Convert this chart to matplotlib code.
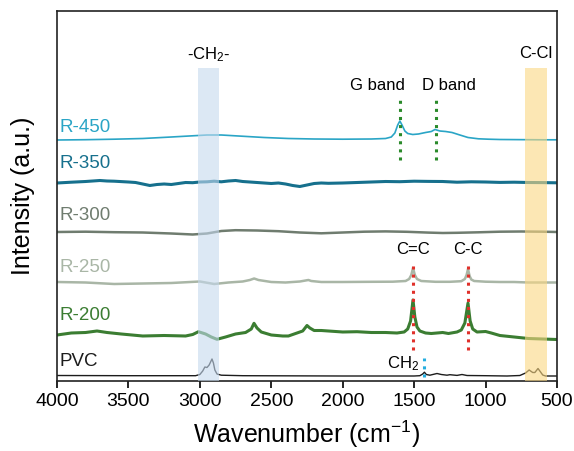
import matplotlib
matplotlib.use("Agg")
import matplotlib.pyplot as plt

plt.rcParams['font.family'] = ['Liberation Sans', 'DejaVu Sans']
plt.rcParams['mathtext.fontset'] = 'custom'
plt.rcParams['mathtext.rm'] = 'Liberation Sans'
plt.rcParams['mathtext.it'] = 'Liberation Sans:italic'

# ---------------- data ----------------
series_names = ["R-450", "R-350", "R-300", "R-250", "R-200", "PVC"]
series_offsets = [241, 198, 149, 99, 46, 5]

r450_wn = [4000, 3800, 3600, 3400, 3200, 3050, 2950, 2850, 2730, 2550, 2380, 2200, 2000, 1800, 1700,
           1660, 1635, 1615, 1600, 1585, 1565, 1545, 1510, 1470, 1420, 1380, 1354, 1320, 1280, 1235,
           1180, 1123, 1050, 980, 900, 800, 700, 600, 500]
r450_int = [0, 0.3, 0.8, 1.5, 3, 4.2, 5, 5, 4, 2.5, 1.5, 1, 0.8, 1, 1.5,
            3, 7, 15, 19, 15, 9, 6.5, 5.5, 6, 7.5, 8.5, 10.5, 9, 8.5, 7.5,
            5, 2.5, 1.2, 0.8, 0.5, 0.4, 0.3, 0.2, 0.2]

r350_wn = [4000, 3900, 3800, 3700, 3650, 3600, 3500, 3450, 3400, 3350, 3300, 3250, 3200, 3150, 3100,
           3050, 3000, 2950, 2900, 2850, 2800, 2750, 2700, 2650, 2600, 2550, 2500, 2450, 2400, 2350,
           2300, 2250, 2200, 2150, 2100, 2000, 1900, 1800, 1700, 1600, 1500, 1400, 1300, 1200, 1100,
           1000, 900, 800, 700, 600, 500]
r350_int = [0, 0.8, 1.5, 2.5, 2, 1.8, 1, 0.5, -1, -2.5, -1.5, -1, -1.5, -0.5, 0.5,
            0.3, 1, 1.2, 1.8, 1.2, 2, 2.5, 1.5, 1, 0.5, 0, -0.5, 0, -1, -2.5,
            -3.5, -2, -0.5, 0, -0.3, 0, 0.5, 1, 1.5, 1.3, 1.8, 1.6, 1.5, 0.8, 1.2,
            1.0, 0.6, 0.8, 0.5, 0.4, 0.2]

r300_wn = [4000, 3800, 3600, 3400, 3200, 3050, 2950, 2850, 2750, 2600, 2450, 2300, 2150, 2000, 1850,
           1700, 1550, 1400, 1300, 1200, 1050, 900, 750, 600, 500]
r300_int = [0, 0.3, -0.2, -0.5, -1.5, -2.5, -1.5, 1, 1.8, 1.5, 0.8, -0.5, -1.3, -0.5, 0.3,
            0.6, 0.2, -0.6, -1, -0.8, -0.3, 0.3, 0.5, 0.3, 0]

r250_wn = [4000, 3800, 3600, 3400, 3200, 3000, 2900, 2800, 2700, 2650, 2620, 2590, 2500, 2400, 2300,
           2260, 2240, 2220, 2150, 2000, 1800, 1650, 1560, 1535, 1520, 1508, 1495, 1480, 1450, 1350,
           1250, 1170, 1145, 1133, 1123, 1112, 1100, 1080, 1000, 900, 800, 700, 600, 500]
r250_int = [0, -0.5, -2, -1.5, -1, 0.5, -2, -0.5, 0.5, 2, 3.5, 2, 0, -0.5, 0.5,
            1.5, 2, 1, 0, 0, 0.2, 0.3, 1, 3, 7, 14, 7, 3, 1, 0.2,
            0.2, 0.8, 3, 7, 13, 6, 2.5, 1, 0.3, 0, 0, -0.5, -0.5, -0.5]

r200_wn = [4000, 3900, 3800, 3720, 3650, 3550, 3400, 3250, 3100, 3050, 3010, 2960, 2920, 2880, 2820,
           2750, 2680, 2640, 2621, 2600, 2570, 2500, 2420, 2380, 2320, 2280, 2250, 2230, 2200, 2150,
           2050, 2000, 1900, 1800, 1700, 1620, 1570, 1545, 1525, 1508, 1495, 1480, 1460, 1420, 1380,
           1300, 1260, 1200, 1170, 1145, 1123, 1108, 1090, 1060, 1000, 960, 900, 800, 700, 600, 500]
r200_int = [0, 2, 2.5, 4, 2.5, 1, -1, -0.5, -1, 0.5, 3.3, 1, -2, -4.3, -2,
            1, 2.5, 6, 11.7, 7, 3, 0, -1, -1, 2, 4, 9.5, 7, 4.5, 4.5,
            3.5, 3, 3.3, 2.5, 2.5, 2, 3, 6, 14, 35, 18, 8, 4, 2, 1.5,
            2.5, 1.5, 3, 5, 12, 32, 14, 6, 3, 3.5, 2, -0.5, -2, -3.5, -4, -4.5]

pvc_wn = [4000, 3500, 3100, 3030, 3000, 2980, 2965, 2950, 2935, 2915, 2905, 2895, 2880, 2850, 2700,
          2000, 1500, 1460, 1440, 1428, 1415, 1390, 1340, 1310, 1270, 1250, 1200, 1165, 1130, 1000,
          850, 760, 720, 695, 670, 655, 633, 615, 600, 580, 500]
pvc_int = [0.5, 0.3, 0.3, 0.3, 1.5, 5, 9, 8.5, 11, 17, 13, 6, 2, 0.8, 0.3,
           0, 0, 0.3, 2, 3.8, 1.5, 0.8, 2.5, 1.5, 0.8, 1.3, 0.6, 1.5, 0.5, 0.3,
           0, 0.5, 3, 6, 3.5, 3.5, 7.5, 4, 1, 0, 0]

series_wn = [r450_wn, r350_wn, r300_wn, r250_wn, r200_wn, pvc_wn]
series_int = [r450_int, r350_int, r300_int, r250_int, r200_int, pvc_int]

band_ranges = [(3010, 2865), (725, 570)]
band_labels = ["-CH$_2$-", "C-Cl"]

peak_labels = ["G band", "D band", "C=C", "C-C", "CH$_2$"]
peak_positions = [1600, 1350, 1508, 1123, 1428]

xticks = [4000, 3500, 3000, 2500, 2000, 1500, 1000, 500]

# ---------------- styles ----------------
colors = ['#2aa5c6', '#16708d', '#6f7c6f', '#a9b6a6', '#3b7d32', '#1c1c1c']
widths = [1.2, 2.2, 1.8, 1.8, 2.2, 1.0]
label_y = [254, 218, 166, 113, 66, 19]

fig = plt.figure(figsize=(5.74, 4.51), dpi=100)
ax = fig.add_axes([57/574, 70/451, 500/574, 370/451])

for wn, inten, off, c, lw in zip(series_wn, series_int, series_offsets, colors, widths):
    ax.plot(wn, [v + off for v in inten], color=c, lw=lw, solid_joinstyle='round', zorder=2)

for name, c, ly in zip(series_names, colors, label_y):
    ax.text(3982, ly, name, color=c, fontsize=13.5, ha='left', va='center')

# shaded bands (drawn over lines)
band_colors = ['#c5d9ee', '#fbd883']
for (a, b), bc in zip(band_ranges, band_colors):
    ax.fill_between([a, b], [0, 0], [313, 313], color=bc, alpha=0.6, lw=0, zorder=3)

ax.text(2940, 326, band_labels[0], fontsize=12, ha='center', va='center')
ax.text(650, 327, band_labels[1], fontsize=12, ha='center', va='center')

# dotted peak markers
ax.plot([peak_positions[0]] * 2, [221, 285], ls=':', color='#2a8a2a', lw=2.2, zorder=4)
ax.plot([peak_positions[1]] * 2, [221, 285], ls=':', color='#2a8a2a', lw=2.2, zorder=4)
ax.plot([peak_positions[2]] * 2, [31, 119], ls=':', color='#e0302a', lw=2.2, zorder=4)
ax.plot([peak_positions[3]] * 2, [31, 119], ls=':', color='#e0302a', lw=2.2, zorder=4)
ax.plot([peak_positions[4]] * 2, [4, 23], ls=':', color='#25aee0', lw=2.2, zorder=4)

ax.text(1755, 296, peak_labels[0], fontsize=12, ha='center', va='center')
ax.text(1255, 296, peak_labels[1], fontsize=12, ha='center', va='center')
ax.text(1508, 132, peak_labels[2], fontsize=12, ha='center', va='center')
ax.text(1123, 132, peak_labels[3], fontsize=12, ha='center', va='center')
ax.text(1580, 17, peak_labels[4], fontsize=12, ha='center', va='center')

ax.set_xlim(4000, 500)
ax.set_ylim(0, 370)
ax.set_xticks(xticks)
ax.set_xticklabels([str(t) for t in xticks], fontsize=14)
ax.set_yticks([])
ax.tick_params(axis='x', direction='out', length=5, width=1.2, pad=4)
for s in ax.spines.values():
    s.set_linewidth(1.2)
    s.set_color('#222222')

ax.set_xlabel("Wavenumber (cm$^{-1}$)", fontsize=18, labelpad=6)
ax.set_ylabel("Intensity (a.u.)", fontsize=18, labelpad=16)

fig.savefig("out.png", dpi=100)
